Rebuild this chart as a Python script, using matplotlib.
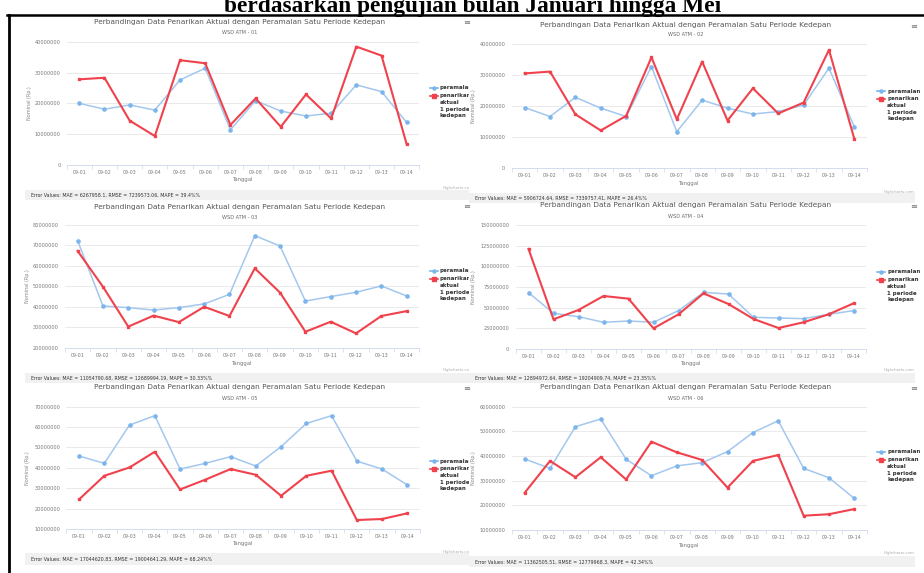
import numpy as np
import matplotlib
matplotlib.use("Agg")
import matplotlib.pyplot as plt
from matplotlib.lines import Line2D
from matplotlib.patches import Rectangle
from matplotlib.transforms import Bbox, TransformedBbox

W, H = 924, 573
JT = 1e6  # nilai di bawah dalam juta rupiah

tanggal = ["09-01", "09-02", "09-03", "09-04", "09-05", "09-06", "09-07",
           "09-08", "09-09", "09-10", "09-11", "09-12", "09-13", "09-14"]

atm01_ramal = [20.0, 18.1, 19.5, 17.8, 27.6, 31.4, 11.4, 20.9, 17.5, 15.9, 16.8, 26.0, 23.8, 13.8]
atm01_aktual = [27.8, 28.3, 14.4, 9.4, 34.0, 33.0, 13.0, 21.6, 12.4, 22.9, 15.1, 38.4, 35.5, 6.7]
atm02_ramal = [19.6, 16.7, 22.9, 19.4, 16.7, 32.8, 11.8, 22.0, 19.4, 17.5, 18.3, 20.4, 32.3, 13.4]
atm02_aktual = [30.6, 31.2, 17.4, 12.2, 16.9, 35.8, 15.8, 34.4, 15.4, 25.8, 17.7, 21.2, 38.2, 9.5]
atm03_ramal = [72.3, 40.4, 39.6, 38.4, 39.6, 41.4, 46.1, 74.8, 69.7, 42.8, 45.0, 47.1, 50.2, 45.3]
atm03_aktual = [67.3, 49.8, 30.3, 35.7, 32.5, 40.0, 35.5, 58.8, 46.9, 27.8, 32.7, 27.0, 35.5, 37.9]
atm04_ramal = [68.2, 43.2, 39.1, 32.3, 33.9, 32.3, 46.4, 68.5, 66.5, 38.3, 37.5, 36.7, 41.9, 46.4]
atm04_aktual = [121.0, 35.9, 47.2, 64.1, 60.9, 25.0, 41.9, 67.3, 54.4, 36.3, 25.4, 32.3, 41.9, 55.2]
atm05_ramal = [45.8, 42.2, 61.0, 65.6, 39.4, 42.2, 45.5, 40.9, 50.4, 61.8, 65.6, 43.3, 39.4, 31.6]
atm05_aktual = [24.5, 36.1, 40.2, 47.9, 29.4, 34.2, 39.4, 36.6, 26.3, 36.1, 38.6, 14.4, 14.9, 17.7]
atm06_ramal = [38.8, 35.0, 51.9, 55.0, 38.7, 32.0, 36.0, 37.3, 41.8, 49.5, 54.3, 35.0, 31.2, 22.8]
atm06_aktual = [25.1, 38.0, 31.4, 39.5, 30.5, 45.8, 41.5, 38.4, 27.2, 38.0, 40.4, 15.8, 16.4, 18.5]

ticks01 = [0, 10, 20, 30, 40]
ticks02 = [0, 10, 20, 30, 40]
ticks03 = [20, 30, 40, 50, 60, 70, 80]
ticks04 = [0, 25, 50, 75, 100, 125, 150]
ticks05 = [10, 20, 30, 40, 50, 60, 70]
ticks06 = [10, 20, 30, 40, 50, 60]

kode_atm = ["WSD ATM - 01", "WSD ATM - 02", "WSD ATM - 03",
            "WSD ATM - 04", "WSD ATM - 05", "WSD ATM - 06"]
error_txt = [
    "Error Values: MAE = 6267958.1, RMSE = 7239573.06, MAPE = 39.4%%",
    "Error Values: MAE = 5906724.64, RMSE = 7339757.41, MAPE = 26.4%%",
    "Error Values: MAE = 11054790.68, RMSE = 12689994.19, MAPE = 30.33%%",
    "Error Values: MAE = 12894972.64, RMSE = 19204909.74, MAPE = 23.35%%",
    "Error Values: MAE = 17044620.83, RMSE = 19004641.29, MAPE = 68.24%%",
    "Error Values: MAE = 11362505.51, RMSE = 12779968.3, MAPE = 42.34%%",
]
judul = "Perbandingan Data Penarikan Aktual dengan Peramalan Satu Periode Kedepan"
judul_dok = "berdasarkan pengujian bulan Januari hingga Mei"
leg_ramal = "peramalan"
leg_aktual = ["penarikan", "aktual", "1 periode", "kedepan"]

BLUE, BLUE_M = "#a3c7ee", "#7cb5ec"
RED = "#f0424c"

# pixel layout of each highcharts panel in the screenshot
layout = [
    dict(plot=(66.7, 41.7, 419.3, 165.0), cx=240, ty=22, sy=32, ylx=29, leg=430, legy=88,
         tgy=180, err=(31, 195), strip=(25, 190, 469, 200), cred=(443, 188), icon=(467, 23), left=True),
    dict(plot=(512, 44.3, 867, 168.3), cx=686, ty=25, sy=35, ylx=474, leg=877, legy=91,
         tgy=184, err=(475, 198), strip=(469, 193, 915, 203), cred=(915, 192), icon=(914, 27), left=False),
    dict(plot=(65, 225, 419.3, 347.7), cx=240, ty=207, sy=218, ylx=27, leg=430, legy=271,
         tgy=363, err=(31, 378), strip=(25, 373, 469, 383), cred=(443, 370), icon=(467, 207), left=True),
    dict(plot=(516, 225, 866, 349), cx=686, ty=205, sy=216, ylx=474, leg=877, legy=272,
         tgy=364, err=(475, 378), strip=(469, 373, 915, 383), cred=(915, 370), icon=(914, 207), left=False),
    dict(plot=(66.4, 406.7, 420, 529), cx=240, ty=387, sy=399, ylx=28, leg=430, legy=461,
         tgy=544, err=(31, 559), strip=(25, 553, 469, 565), cred=(443, 552), icon=(467, 388), left=True),
    dict(plot=(512, 406.7, 867, 530), cx=686, ty=387, sy=398, ylx=474, leg=877, legy=452,
         tgy=545, err=(475, 562), strip=(469, 556, 915, 567), cred=(915, 553), icon=(914, 388), left=False),
]

fig = plt.figure(figsize=(W / 100, H / 100), dpi=100)
fig.patch.set_facecolor("white")
clip_left = TransformedBbox(Bbox.from_extents(0, 0, 469 / W, 1), fig.transFigure)


def fx(x):
    return x / W


def fy(y):
    return 1 - y / H


def ftext(x, y, s, clip=False, **kw):
    t = fig.text(fx(x), fy(y), s, **kw)
    if clip:
        t.set_clip_box(clip_left)
        t.set_clip_on(True)
    return t


def draw_panel(ramal, aktual, ticks, kode, err, g):
    x0, y0, x1, y1 = g["plot"]
    ax = fig.add_axes([fx(x0), fy(y1), (x1 - x0) / W, (y1 - y0) / H])
    ax.set_facecolor("none")
    xs = np.arange(len(tanggal))
    ax.plot(xs, np.array(ramal) * JT, color=BLUE, lw=1.1, marker="o", ms=2.3,
            mfc=BLUE_M, mec=BLUE_M, zorder=3, clip_on=False)
    ax.plot(xs, np.array(aktual) * JT, color=RED, lw=1.5, marker="s", ms=2.0,
            mfc=RED, mec=RED, zorder=4, clip_on=False)
    ax.set_xlim(-0.5, len(tanggal) - 0.5)
    ax.set_ylim(ticks[0] * JT, ticks[-1] * JT)
    ax.set_yticks([t * JT for t in ticks])
    ax.set_yticklabels([f"{int(t * JT)}" for t in ticks], fontsize=3.6, color="#777777")
    ax.set_xticks(xs)
    ax.set_xticklabels(tanggal, fontsize=3.4, color="#777777")
    ax.set_xticks(np.arange(len(tanggal) + 1) - 0.5, minor=True)
    ax.tick_params(axis="y", length=0, pad=4.5 if g["left"] else 4.8)
    ax.tick_params(axis="x", which="major", length=0, pad=3.5)
    ax.tick_params(axis="x", which="minor", length=3, width=0.5, color="#ccd6eb")
    ax.grid(axis="y", color="#e6e6e6", lw=0.6)
    for s in ["top", "right", "left"]:
        ax.spines[s].set_visible(False)
    ax.spines["bottom"].set_color("#ccd6eb")
    ax.spines["bottom"].set_linewidth(0.6)

    cl = g["left"]
    ftext(g["cx"], g["ty"], judul, ha="center", va="center", fontsize=5.3, color="#555555")
    ftext(g["cx"], g["sy"], kode, ha="center", va="center", fontsize=3.6, color="#666666")
    ftext(g["ylx"], (y0 + y1) / 2, "Nominal (Rp.)", ha="center", va="center",
          rotation=90, fontsize=3.5, color="#888888")
    ftext((x0 + x1) / 2, g["tgy"], "Tanggal", ha="center", va="center", fontsize=3.8, color="#777777")

    # legend
    lx, ly = g["leg"], g["legy"]
    for yy, col, mk in [(ly, BLUE_M, "o"), (ly + 7.5, RED, "s")]:
        fig.add_artist(Line2D([fx(lx), fx(lx + 8)], [fy(yy)] * 2, transform=fig.transFigure,
                              color=col, lw=1.2))
        fig.add_artist(Line2D([fx(lx + 4)], [fy(yy)], transform=fig.transFigure,
                              color=col, marker=mk, ms=2.2))
    ftext(lx + 10, ly, leg_ramal, clip=cl, ha="left", va="center", fontsize=4.0,
          fontweight="bold", color="#333333")
    for i, s in enumerate(leg_aktual):
        ftext(lx + 10, ly + 7.5 + i * 6.8, s, clip=cl, ha="left", va="center", fontsize=4.0,
              fontweight="bold", color="#333333")

    # error strip + credits + export icon
    sx0, sy0, sx1, sy1 = g["strip"]
    fig.add_artist(Rectangle((fx(sx0), fy(sy1)), (sx1 - sx0) / W, (sy1 - sy0) / H,
                             transform=fig.transFigure, facecolor="#f1f1f1", edgecolor="none", zorder=0))
    ftext(g["err"][0], g["err"][1], err, ha="left", va="center", fontsize=3.4, color="#333333")
    ftext(g["cred"][0], g["cred"][1], "Highcharts.com", clip=cl,
          ha="left" if cl else "right", va="center", fontsize=2.8, color="#aaaaaa")
    ftext(g["icon"][0], g["icon"][1], "≡", ha="center", va="center", fontsize=6, color="#777777")


series = [(atm01_ramal, atm01_aktual, ticks01), (atm02_ramal, atm02_aktual, ticks02),
          (atm03_ramal, atm03_aktual, ticks03), (atm04_ramal, atm04_aktual, ticks04),
          (atm05_ramal, atm05_aktual, ticks05), (atm06_ramal, atm06_aktual, ticks06)]
for (r, a, t), kode, err, g in zip(series, kode_atm, error_txt, layout):
    draw_panel(r, a, t, kode, err, g)

# document caption (cut at the top, as in the screenshot) and the black frame
fig.text(fx(473), fy(12), judul_dok, ha="center", va="baseline", fontsize=16.8,
         fontweight="bold", family="Liberation Serif", color="black")
fig.add_artist(Line2D([fx(7.5), 1], [fy(14.5)] * 2, transform=fig.transFigure, color="black", lw=1.8))
fig.add_artist(Line2D([fx(8.5)] * 2, [fy(14.5), 0], transform=fig.transFigure, color="black", lw=2.0))

fig.savefig("out.png", dpi=100)
